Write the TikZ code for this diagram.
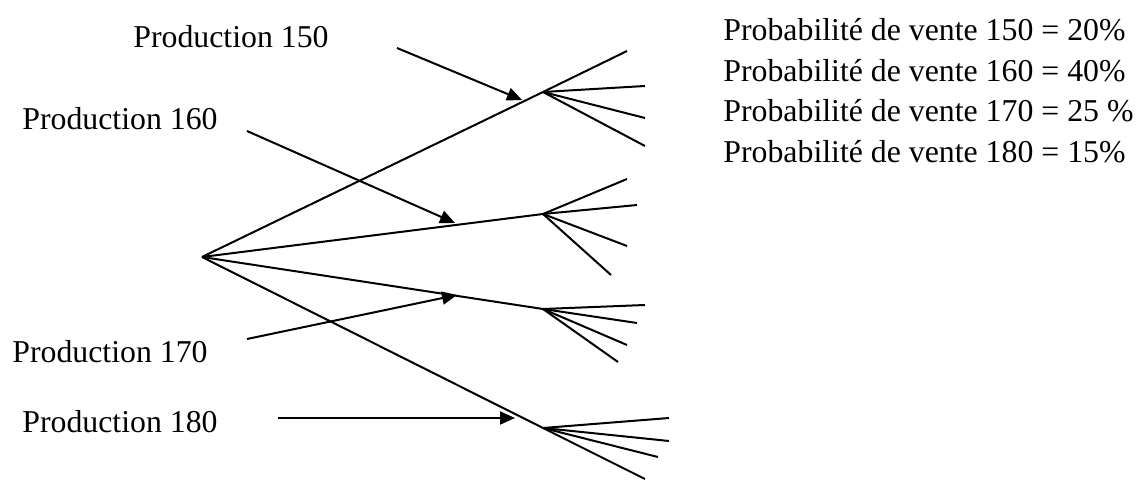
\documentclass[tikz,border=0pt]{standalone}
\usepackage{fontspec}
\setmainfont{Liberation Serif}
\usetikzlibrary{arrows.meta, positioning}
\tikzset{
  branche/.style={line width=1pt},
  fleche/.style={line width=1pt, -{Triangle[length=7.5pt,width=6.5pt]}},
  etiq/.style={anchor=base west, inner sep=0pt, font=\fontsize{15.9}{19}\selectfont}
}

\begin{document}
\begin{tikzpicture}[x=0.5pt, y=-0.5pt]
            \useasboundingbox (0,0) rectangle (1139,480);

            % Noeuds de decision
            \coordinate (racine) at (202,257);
            \coordinate (n150) at (543,92);
            \coordinate (n160) at (543,214);
            \coordinate (n170) at (543,309);
            \coordinate (n180) at (543,428);

            \foreach \n in {n150,n160,n170,n180}
              \draw[branche] (racine) -- (\n);

            % Ventes possibles
            \foreach \x/\y [count=\i] in {627/51, 645/86, 645/118, 645/146}
              \draw[branche] (n150) -- (\x,\y) coordinate (v150-\i);
            \foreach \x/\y [count=\i] in {627/179, 637/205, 627/246, 611/275}
              \draw[branche] (n160) -- (\x,\y) coordinate (v160-\i);
            \foreach \x/\y [count=\i] in {645/305, 637/323, 627/345, 618/362}
              \draw[branche] (n170) -- (\x,\y) coordinate (v170-\i);
            \foreach \x/\y [count=\i] in {669/418, 669/441, 658/457, 645/479}
              \draw[branche] (n180) -- (\x,\y) coordinate (v180-\i);

            % Productions
            \node[etiq] (p150) at (133,48) {Production 150};
            \node[etiq] (p160) at (22,130) {Production 160};
            \node[etiq] (p170) at (12,363) {Production 170};
            \node[etiq] (p180) at (22,432) {Production 180};

            \coordinate (s150) at (397,48);
            \coordinate (s160) at (247,131);
            \coordinate (s170) at (247,339);
            \coordinate (s180) at (278,418);
            \coordinate (f150) at (522,100);
            \coordinate (f160) at (455,223);
            \coordinate (f170) at (457,295);
            \coordinate (f180) at (515,418);

            \foreach \p in {150,160,170,180}
              \draw[fleche] (s\p) -- (f\p);

            % Probabilites
            \node[etiq] (q150) at (723,41) {Probabilité de vente 150 = 20\%};
            \node[etiq] (q160) at (723,82) {Probabilité de vente 160 = 40\%};
            \node[etiq] (q170) at (723,122) {Probabilité de vente 170 = 25 \%};
            \node[etiq] (q180) at (723,163) {Probabilité de vente 180 = 15\%};
        \end{tikzpicture}
\end{document}
